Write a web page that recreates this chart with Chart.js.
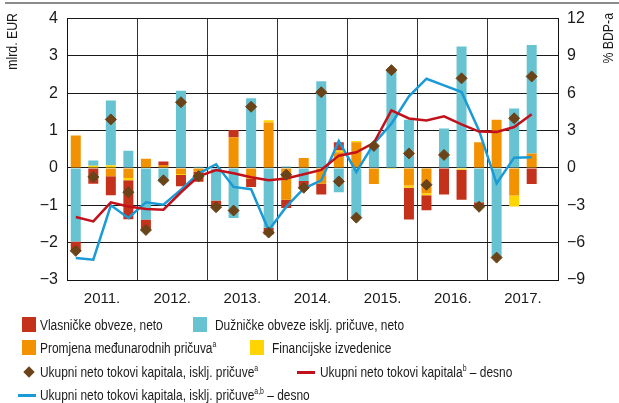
<!DOCTYPE html>
<html lang="hr">
<head>
<meta charset="utf-8">
<script src="https://cdn.jsdelivr.net/npm/chart.js@4"></script>
<style>
  body { margin: 0; background: #fff; }
  #wrap { position: relative; width: 619px; height: 403px; font-family: "Liberation Sans", Arial, sans-serif; color: #1a1a1a; }
  #rule { position: absolute; left: 5px; right: 0; top: 2px; height: 2px; background: #8c8c8c; }
  .lg { position: absolute; font-size: 15.5px; line-height: 18px; white-space: nowrap; transform: scaleX(0.77); transform-origin: 0 50%; }
  .lg sup { font-size: 9px; vertical-align: 6px; line-height: 0; }
  .sw { position: absolute; width: 14px; height: 15px; }
  .ln { position: absolute; width: 18px; height: 3px; }
  .dm { position: absolute; width: 8px; height: 8px; background: #6b4318; transform: rotate(45deg); }
</style>
</head>
<body>
<div id="wrap">
  <div id="rule"></div>
  <canvas id="tokovi"></canvas>

  <div class="sw" style="left:22px;top:317px;background:#c4321c"></div>
  <div class="lg" style="left:40px;top:316px">Vlasničke obveze, neto</div>
  <div class="sw" style="left:193px;top:317px;background:#67c3d1"></div>
  <div class="lg" style="left:215px;top:316px">Dužničke obveze isklj. pričuve, neto</div>

  <div class="sw" style="left:22px;top:340px;background:#f39200"></div>
  <div class="lg" style="left:40px;top:339px">Promjena međunarodnih pričuva<sup>a</sup></div>
  <div class="sw" style="left:250px;top:340px;background:#ffd400"></div>
  <div class="lg" style="left:272px;top:339px">Financijske izvedenice</div>

  <div class="dm" style="left:25px;top:368px"></div>
  <div class="lg" style="left:40px;top:363px">Ukupni neto tokovi kapitala, isklj. pričuve<sup>a</sup></div>
  <div class="ln" style="left:297px;top:371px;background:#c1121c"></div>
  <div class="lg" style="left:320px;top:363px">Ukupni neto tokovi kapitala<sup>b</sup> – desno</div>

  <div class="ln" style="left:18px;top:394px;background:#1a9ad6"></div>
  <div class="lg" style="left:40px;top:386px">Ukupni neto tokovi kapitala, isklj. pričuve<sup>a,b</sup> – desno</div>
</div>

<script>
const years = ['2011.', '2012.', '2013.', '2014.', '2015.', '2016.', '2017.'];
const quarters = [];
years.forEach(y => { for (let q = 1; q <= 4; q++) quarters.push(y + ' Q' + q); });

// mlrd. EUR (podaci do 3. tromjesečja 2017.)
const pricuve = [0.87, 0, -0.22, -0.27, 0.25, 0.08, -0.16, -0.10, 0, 0.82, -0.29, 1.22,
  -0.85, 0.27, -0.42, 0.42, 0.69, -0.43, 0, -0.47, -0.68, 0, 0, 0.69, 1.29, -0.74, 0.39];
const izvedenice = [0, 0.06, 0.07, -0.06, 0, 0, -0.03, 0, 0, 0, 0, 0.06,
  0, 0, 0, 0.05, 0.03, 0, -0.03, -0.06, -0.05, 0, -0.05, 0, 0, -0.29, 0];
const duznicke = [-1.97, 0.14, 1.74, 0.46, -1.38, -0.38, 2.07, 0.03, -0.87, -1.34, 1.87, -1.60,
  0.04, -0.35, 2.32, -0.65, -1.32, 0.60, 2.62, 1.29, 0, 1.06, 3.25, -0.92, -2.40, 1.59, 2.90];
const vlasnicke = [-0.25, -0.42, -0.51, -1.04, -0.27, 0.09, -0.30, -0.27, -0.13, 0.20, -0.22, -0.18,
  -0.22, -0.20, -0.29, 0.22, 0, 0, 0, -0.85, -0.40, -0.71, -0.80, -0.13, 0, 0, -0.43];
const ukupnoBezPricuva = [-2.22, -0.24, 1.30, -0.65, -1.66, -0.33, 1.76, -0.22, -1.05, -1.14, 1.64, -1.73,
  -0.18, -0.53, 2.03, -0.36, -1.33, 0.59, 2.62, 0.39, -0.45, 0.35, 2.40, -1.04, -2.40, 1.33, 2.45];

// % BDP-a (desna os)
const ukupnoBdp = [-3.94, -4.29, -2.76, -3.10, -3.30, -3.35, -1.95, -0.67, -0.16, -0.43, -0.75, -0.99,
  -0.85, -0.50, -0.15, 0.99, 1.26, 2.02, 4.62, 3.98, 3.82, 4.15, 3.50, 2.92, 2.90, 3.29, 4.31];
const ukupnoBezPricuvaBdp = [-7.23, -7.37, -3.00, -4.02, -2.76, -2.95, -1.74, -0.45, 0.30, -1.52, -1.71, -5.00,
  -3.13, -1.65, -0.99, 2.17, -0.32, 1.95, 3.56, 5.75, 7.17, 6.63, 6.10, 3.00, -1.25, 0.83, 0.86];

const leftTicks = [-3, -2, -1, 0, 1, 2, 3, 4];
const rightTicks = [-9, -6, -3, 0, 3, 6, 9, 12];

const fontFamily = '"Liberation Sans", Arial, sans-serif';
const tickFont = { family: fontFamily, size: 16 };
const minus = v => String(v).replace('-', '\u2212');

// naslovi osi uz gornji rub, suženo pismo
const axisTitles = {
  id: 'axisTitles',
  afterDraw(chart) {
    const c = chart.ctx;
    c.save();
    c.fillStyle = '#1a1a1a';
    c.font = '15px ' + fontFamily;
    c.textAlign = 'right';
    c.textBaseline = 'middle';
    [[13, 13, 'mlrd. EUR'], [609, 13, '% BDP-a']].forEach(([x, y, t]) => {
      c.save();
      c.translate(x, y);
      c.rotate(-Math.PI / 2);
      c.scale(0.82, 1);
      c.fillText(t, 0, 0);
      c.restore();
    });
    c.restore();
  }
};

new Chart(document.getElementById('tokovi'), {
  type: 'bar',
  data: {
    labels: quarters,
    datasets: [
      { label: 'Promjena međunarodnih pričuva', data: pricuve, backgroundColor: '#f39200', order: 2 },
      { label: 'Financijske izvedenice', data: izvedenice, backgroundColor: '#ffd400', order: 2 },
      { label: 'Dužničke obveze isklj. pričuve, neto', data: duznicke, backgroundColor: '#67c3d1', order: 2 },
      { label: 'Vlasničke obveze, neto', data: vlasnicke, backgroundColor: '#c4321c', order: 2 },
      {
        type: 'line', label: 'Ukupni neto tokovi kapitala, isklj. pričuve', data: ukupnoBezPricuva,
        stack: 'romb', showLine: false, pointStyle: 'rectRot', pointRadius: 5.5, borderWidth: 1,
        backgroundColor: '#6b4318', borderColor: '#6b4318', order: 0
      },
      {
        type: 'line', label: 'Ukupni neto tokovi kapitala – desno', data: ukupnoBdp, yAxisID: 'y1',
        borderColor: '#c1121c', borderWidth: 2.5, pointRadius: 0, tension: 0, order: 1
      },
      {
        type: 'line', label: 'Ukupni neto tokovi kapitala, isklj. pričuve – desno', data: ukupnoBezPricuvaBdp, yAxisID: 'y1',
        borderColor: '#1a9ad6', borderWidth: 2.5, pointRadius: 0, tension: 0, order: 1
      }
    ]
  },
  options: {
    responsive: true,
    maintainAspectRatio: false,
    animation: false,
    layout: { padding: { top: 18, left: 0, right: 0, bottom: 0 } },
    datasets: { bar: { barPercentage: 1, categoryPercentage: 0.57 } },
    plugins: { legend: { display: false }, tooltip: { enabled: false } },
    scales: {
      x: { display: false, stacked: true },
      xYear: {
        type: 'category', labels: years, position: 'bottom', offset: true,
        grid: { offset: true, color: '#333', lineWidth: 1, drawTicks: false },
        border: { color: '#111', width: 1 },
        ticks: { font: { family: fontFamily, size: 15 }, color: '#1a1a1a', padding: 10 },
        afterFit: s => { s.height = 123; }
      },
      y: {
        stacked: true, min: -3, max: 4, position: 'left',
        afterBuildTicks: s => { s.ticks = leftTicks.map(v => ({ value: v })); },
        grid: { color: '#1a1a1a', lineWidth: 1, drawTicks: false },
        border: { color: '#111', width: 1 },
        ticks: { font: tickFont, color: '#1a1a1a', padding: 9, callback: minus },
        afterFit: s => { s.width = 67; }
      },
      y1: {
        min: -9, max: 12, position: 'right',
        afterBuildTicks: s => { s.ticks = rightTicks.map(v => ({ value: v })); },
        grid: { drawOnChartArea: false, drawTicks: false },
        border: { color: '#111', width: 1 },
        ticks: { font: tickFont, color: '#1a1a1a', padding: 9, callback: minus },
        afterFit: s => { s.width = 61; }
      }
    }
  },
  plugins: [axisTitles]
});
</script>
</body>
</html>
